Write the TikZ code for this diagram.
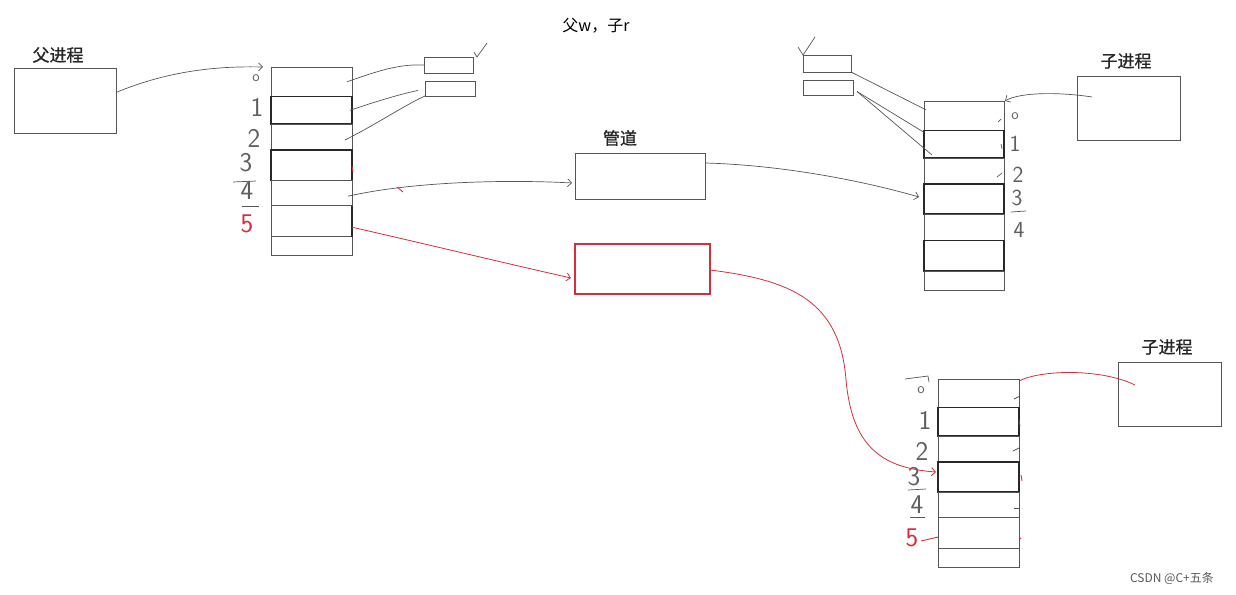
\documentclass[tikz,border=0pt]{standalone}
\usepackage{fontspec}
\newfontfamily\cjk{Noto Sans CJK SC}
\newfontfamily\cjkb{Noto Sans CJK SC}[FakeBold=1]
\usetikzlibrary{arrows.meta}
\definecolor{linec}{RGB}{85,85,85}
\definecolor{darkc}{RGB}{40,40,40}
\definecolor{redc}{RGB}{215,45,60}
\definecolor{numc}{RGB}{95,95,95}
\begin{document}
\begin{tikzpicture}[x=1pt,y=-1pt,
  cell/.style={draw=linec, line width=0.8pt, anchor=north west, minimum width=81pt, inner sep=0pt, outer sep=0pt},
  thickcell/.style={cell, draw=darkc, line width=1.3pt},
  box/.style={draw=linec, line width=0.9pt, anchor=north west, inner sep=0pt, outer sep=0pt},
  redbox/.style={draw=redc, line width=1.8pt, anchor=north west, inner sep=0pt, outer sep=0pt},
  lbl/.style={font=\cjkb\fontsize{17}{17}\selectfont, text=black!85, inner sep=0pt},
  num/.style={font=\sffamily\fontsize{27}{27}\selectfont, text=numc, inner sep=0pt},
  snum/.style={num, font=\sffamily\fontsize{23}{23}\selectfont},
  onum/.style={num, font=\sffamily\fontsize{15}{15}\selectfont},
  rnum/.style={num, text=redc},
  wire/.style={draw=linec, line width=0.7pt},
  rwire/.style={draw=redc, line width=0.8pt},
  arr/.style={-{Straight Barb[length=4pt,width=8pt]}},
  mytick/.style={draw=linec, line width=0.7pt},
  rtick/.style={draw=redc, line width=0.9pt}
]
\useasboundingbox (0,0) rectangle (1236,594);

% title
\node[font=\cjk\fontsize{16}{16}\selectfont, inner sep=0pt] (title) at (596,26) {父w，子r};

% parent process
\node[lbl] (Plbl) at (58,55) {父进程};
\node[box, minimum width=102pt, minimum height=65pt] (P) at (14,68) {};

% left table
\node[cell, minimum height=29.7pt] (L0) at (271,67) {};
\node[thickcell, minimum height=27.3pt] (L1) at (271,96.7) {};
\node[cell, minimum height=26pt] (L2) at (271,124) {};
\node[thickcell, minimum height=30.7pt] (L3) at (271,150) {};
\node[cell, minimum height=25pt] (L4) at (271,180.7) {};
\node[cell, minimum height=31pt] (L5) at (271,205.7) {};
\node[cell, minimum height=19pt] (L6) at (271,236.7) {};
\draw[draw=darkc, line width=1.3pt] (L5.north east) -- (L5.south east);

\node[onum] (Ln0) at (256,78) {o};
\node[num] (Ln1) at (257,107) {1};
\node[num] (Ln2) at (254,138) {2};
\node[num] (Ln3) at (246,163) {3};
\node[num] (Ln4) at (247,191) {4};
\node[rnum] (Ln5) at (247,224) {5};
\draw[mytick] (233,182) -- (256,181);
\draw[mytick] (242,206) -- (259,206);
\draw[rtick] (352,166) -- (353,172);

% left small boxes
\node[box, minimum width=49pt, minimum height=16pt] (S1) at (424,57) {};
\node[box, minimum width=50pt, minimum height=15pt] (S2) at (425,81) {};
\draw[mytick] (474,52) -- (477,57) -- (487,43);

% pipe
\node[lbl] (Glbl) at (620,138) {管道};
\node[box, minimum width=130pt, minimum height=46pt] (G) at (575,153) {};
% red box
\node[redbox, minimum width=135pt, minimum height=50pt] (RB) at (575,244) {};

% right table
\node[cell, minimum height=29.7pt, minimum width=80pt] (R0) at (924,101) {};
\node[thickcell, minimum height=27.3pt, minimum width=80pt] (R1) at (924,130.7) {};
\node[cell, minimum height=26pt, minimum width=80pt] (R2) at (924,158) {};
\node[thickcell, minimum height=30pt, minimum width=80pt] (R3) at (924,184) {};
\node[cell, minimum height=26.7pt, minimum width=80pt] (R4) at (924,214) {};
\node[thickcell, minimum height=30.3pt, minimum width=80pt] (R5) at (924,240.7) {};
\node[cell, minimum height=19pt, minimum width=80pt] (R6) at (924,271) {};

\node[onum] (Rn0) at (1015,116) {o};
\node[snum] (Rn1) at (1015,144) {1};
\node[snum] (Rn2) at (1018,175) {2};
\node[snum] (Rn3) at (1017,198) {3};
\node[snum] (Rn4) at (1019,230) {4};
\draw[mytick] (1011,212) -- (1026,211);
\draw[mytick] (998,122) -- (1001,119);
\draw[mytick] (1001,144) -- (1002,149);
\draw[mytick] (997,177) -- (1002,173);

% right small boxes
\node[box, minimum width=48pt, minimum height=17pt] (S3) at (803,55) {};
\node[box, minimum width=50pt, minimum height=15pt] (S4) at (803,80) {};
\draw[mytick] (798,47) -- (803,55) -- (815,37);

% child process 1
\node[lbl] (C1lbl) at (1126,61) {子进程};
\node[box, minimum width=103pt, minimum height=64pt] (C1) at (1077,76) {};

% bottom table
\node[cell, minimum height=28.7pt] (B0) at (938,379) {};
\node[thickcell, minimum height=28.3pt] (B1) at (938,407.7) {};
\node[cell, minimum height=26pt] (B2) at (938,436) {};
\node[thickcell, minimum height=30pt] (B3) at (938,462) {};
\node[cell, minimum height=25.7pt] (B4) at (938,492) {};
\node[cell, minimum height=30.3pt] (B5) at (938,517.7) {};
\node[cell, minimum height=19pt] (B6) at (938,548) {};

\node[onum] (Bn0) at (921,390) {o};
\node[num] (Bn1) at (925,420) {1};
\node[num] (Bn2) at (922,451) {2};
\node[num] (Bn3) at (914,477) {3};
\node[num] (Bn4) at (917,505) {4};
\node[rnum] (Bn5) at (912,538) {5};
\draw[mytick] (905,379) -- (928,376) -- (929,382);
\draw[mytick] (908,490) -- (926,489);
\draw[mytick] (910,517) -- (925,517);
\draw[rtick] (921,541) -- (938,537);
\draw[mytick] (1014,399) -- (1020,396);
\draw[mytick] (1019,420) -- (1020,426);
\draw[mytick] (1013,451) -- (1019,448);
\draw[rtick] (1021,475) -- (1022,481);
\draw[mytick] (1014,508) -- (1020,508);
\draw[rtick] (1019,537) -- (1021,539);

% child process 2
\node[lbl] (C2lbl) at (1167,347) {子进程};
\node[box, minimum width=103pt, minimum height=64pt] (C2) at (1118,362) {};

% watermark
\node[font=\cjk\fontsize{12}{12}\selectfont, text=black!65, inner sep=0pt] (wm) at (1172,578) {CSDN @C+五条};

% connectors
\draw[wire, arr] ([yshift=8pt]P.east) .. controls (170,70) and (220,66) .. ([xshift=-8pt]L0.north west);
\draw[wire] ([xshift=-5pt]L0.east) .. controls (380,70) and (400,64) .. (S1.west);
\draw[wire] ([xshift=-2pt]L1.east) .. controls (380,100) and (405,93) .. ([xshift=-7pt,yshift=-2pt]S2.west);
\draw[wire] ([xshift=-7pt,yshift=-3pt]L2.east) .. controls (375,125) and (405,105) .. (S2.south west);
\draw[wire, arr] ([xshift=-4pt,yshift=-3pt]L4.east) .. controls (420,180) and (520,180) .. ([xshift=-3pt,yshift=-7pt]G.west);
\draw[rtick] (397,187) -- (403,192);
\draw[rwire, arr] ([yshift=-6pt]L5.east) .. controls (430,245) and (500,262) .. ([xshift=-4pt,yshift=-9pt]RB.west);
\draw[wire, arr] ([yshift=13pt]G.east) .. controls (780,165) and (860,180) .. ([xshift=-5pt,yshift=2pt]R3.west);
\draw[rwire, arr] ([yshift=-1pt]RB.east) .. controls (790,280) and (840,300) .. (846,380) .. controls (852,445) and (880,468) .. ([xshift=-2pt,yshift=5pt]B3.west);
\draw[wire] (S3.south east) -- ([xshift=2pt,yshift=6pt]R0.west);
\draw[wire] ([xshift=4pt,yshift=-4pt]S4.east) -- ([yshift=12pt]R1.west);
\draw[wire] ([xshift=4pt,yshift=-4pt]S4.east) -- ([xshift=8pt,yshift=16pt]R2.west);
\draw[wire, arr] ([xshift=15pt,yshift=11pt]C1.west) .. controls (1060,92) and (1020,92) .. ([xshift=1pt]R0.north east);
\draw[rwire] ([yshift=-2pt]B0.north east) .. controls (1040,370) and (1100,368) .. ([xshift=17pt,yshift=9pt]C2.west);
\end{tikzpicture}
\end{document}
